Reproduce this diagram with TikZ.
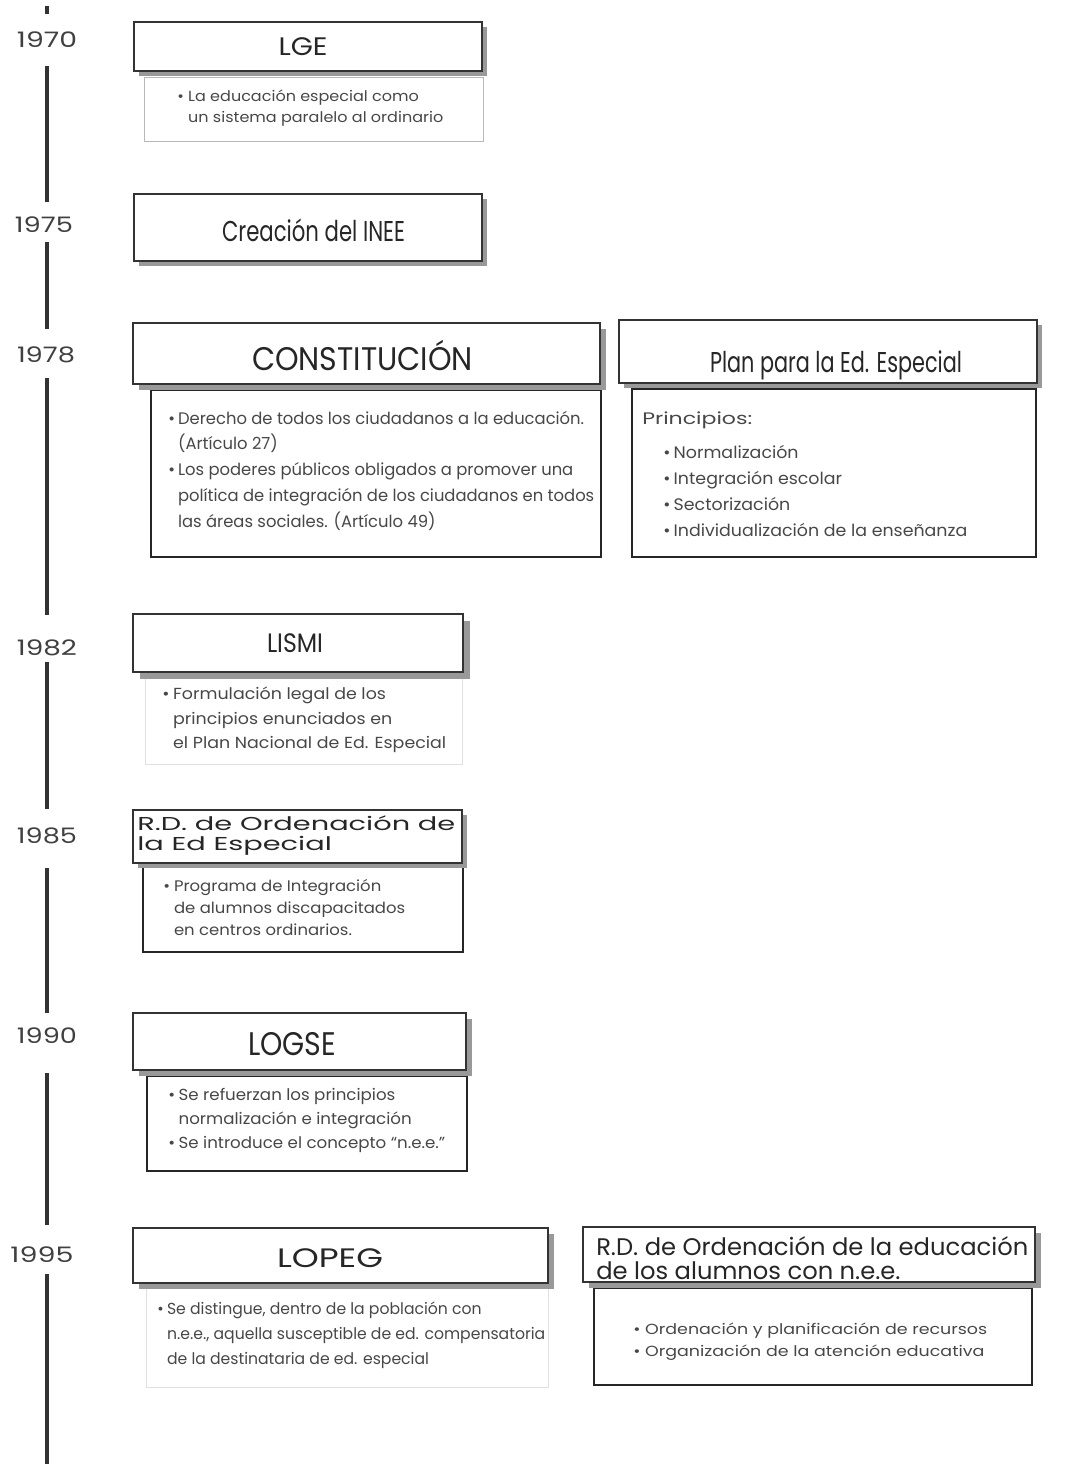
\documentclass[tikz,border=0pt]{standalone}
\usepackage{fontspec}
\setmainfont{Poppins}
\usepackage{graphicx}
\usetikzlibrary{fit,calc}
\newdimen\pxu \pxu=0.75pt
\newcommand\fitw[2]{\resizebox{#1\pxu}{\height}{#2}}
\newcommand\bl{\makebox[10\pxu][l]{•}}
\newcommand\ind{\hspace*{10\pxu}}
\newcommand\titlebox[6]{%
  \fill[shad] ($(#2,#3)+(#6,#6)$) rectangle ($(#4,#5)+(#6,#6)$);
  \node[tbox, fit={(#2,#3) (#4,#5)}] (#1) {};}
\newcommand\bodybox[6]{\node[#6, fit={(#2,#3) (#4,#5)}] (#1) {};}
\tikzset{
  shad/.style={fill=black!40},
  tbox/.style={draw=black!80, line width=1pt, fill=white, inner sep=0pt, outer sep=0pt},
  bodyD/.style={draw=black!85, line width=1.3pt, inner sep=0pt},
  bodyL/.style={draw=black!28, line width=0.6pt, inner sep=0pt},
  bodyVL/.style={draw=black!12, line width=0.6pt, inner sep=0pt},
  ttl/.style={inner sep=0pt, text=black!85, anchor=base},
  yr/.style={inner sep=0pt, text=black!75, font=\fontsize{16}{16}\selectfont},
  btxt/.style={inner sep=0pt, text=black!72, anchor=west, align=left},
  tl/.style={line width=2.6pt, draw=black!80},
}
\begin{document}
\begin{tikzpicture}[x=0.75pt,y=-0.75pt]
\useasboundingbox (0,0) rectangle (1088,1464);
% ---------- timeline ----------
\coordinate (ax) at (47,0);
\coordinate (top) at (47,6);
\coordinate (topb) at (47,14);
\coordinate (bot) at (47,1464);
\node[yr] (y1970) at (47,40) {\fitw{60}{1970}};
\node[yr] (y1975) at (44,225) {\fitw{58}{1975}};
\node[yr] (y1978) at (46,355) {\fitw{58}{1978}};
\node[yr] (y1982) at (47,648) {\fitw{60}{1982}};
\node[yr] (y1985) at (47,836) {\fitw{60}{1985}};
\node[yr] (y1990) at (47,1036) {\fitw{60}{1990}};
\node[yr] (y1995) at (42,1255) {\fitw{63}{1995}};
\draw[tl, line width=3.4pt] (top) -- (topb);
\draw[tl] ($(ax|-y1970)+(0,26)$) -- ($(ax|-y1975)+(0,-23)$);
\draw[tl] ($(ax|-y1975)+(0,17)$) -- ($(ax|-y1978)+(0,-26)$);
\draw[tl] ($(ax|-y1978)+(0,23)$) -- ($(ax|-y1982)+(0,-33)$);
\draw[tl] ($(ax|-y1982)+(0,14)$) -- ($(ax|-y1985)+(0,-27)$);
\draw[tl] ($(ax|-y1985)+(0,32)$) -- ($(ax|-y1990)+(0,-23)$);
\draw[tl] ($(ax|-y1990)+(0,37)$) -- ($(ax|-y1995)+(0,-30)$);
\draw[tl] ($(ax|-y1995)+(0,19)$) -- (bot);
% ---------- body boxes ----------
\bodybox{bLGE}{144}{77}{483}{141}{bodyL}
\bodybox{bCONST}{151}{390}{601}{557}{bodyD}
\bodybox{bPLAN}{632}{389}{1036}{557}{bodyD}
\bodybox{bLISMI}{145}{678}{462}{764}{bodyVL}
\bodybox{bRD85}{143}{867}{463}{952}{bodyD}
\bodybox{bLOGSE}{147}{1076}{467}{1171}{bodyD}
\bodybox{bLOPEG}{146}{1287}{548}{1387}{bodyVL}
\bodybox{bRD95}{594}{1288}{1032}{1385}{bodyD}
% ---------- title boxes ----------
\titlebox{LGE}{134}{22}{482}{71}{5}
\titlebox{INEE}{134}{194}{482}{261}{5}
\titlebox{CONST}{133}{323}{600}{384}{6}
\titlebox{PLAN}{619}{320}{1037}{383}{5}
\titlebox{LISMI}{133}{614}{463}{672}{7}
\titlebox{RD85}{133}{810}{462}{863}{5}
\titlebox{LOGSE}{133}{1013}{466}{1070}{6}
\titlebox{LOPEG}{133}{1228}{548}{1283}{6}
\titlebox{RD95}{583}{1227}{1035}{1282}{6}
% ---------- titles ----------
\node[ttl, font=\fontsize{19}{19}\selectfont] (tLGE) at (303,55) {\fitw{49}{LGE}};
\node[ttl, font=\fontsize{21.5}{21.5}\selectfont] (tINEE) at (313.5,241) {\fitw{183}{Creación del INEE}};
\node[ttl, font=\fontsize{24.5}{24.5}\selectfont] (tCONST) at (362.5,370) {\fitw{221}{CONSTITUCIÓN}};
\node[ttl, font=\fontsize{21.5}{21.5}\selectfont] (tPLAN) at (836,372) {\fitw{252}{Plan para la Ed. Especial}};
\node[ttl, font=\fontsize{20}{20}\selectfont] (tLISMI) at (295,652) {\fitw{56}{LISMI}};
\node[ttl, font=\fontsize{24.5}{24.5}\selectfont] (tLOGSE) at (292,1055) {\fitw{88}{LOGSE}};
\node[ttl, font=\fontsize{20}{20}\selectfont] (tLOPEG) at (330,1267) {\fitw{106}{LOPEG}};
\node[ttl, anchor=base west, font=\fontsize{14}{15}\selectfont] (tRD85) at (137,830)
  {\fitw{318}{\begin{tabular}[t]{@{}l@{}}R.D. de Ordenación de\\la Ed Especial\end{tabular}}};
\node[ttl, anchor=base west, font=\fontsize{18}{16.5}\selectfont] (tRD95) at (596,1255)
  {\fitw{432}{\begin{tabular}[t]{@{}l@{}}R.D. de Ordenación de la educación\\de los alumnos con n.e.e.\end{tabular}}};
% ---------- body texts ----------
\node[btxt, font=\fontsize{11}{15.75}\selectfont] (xLGE) at (177,107.5)
  {\fitw{266}{\begin{tabular}{@{}l@{}}\bl La educación especial como\\\ind un sistema paralelo al ordinario\end{tabular}}};
\node[btxt, font=\fontsize{12.5}{19.3}\selectfont] (xCONST) at (168,470.5)
  {\fitw{426}{\begin{tabular}{@{}l@{}}\bl Derecho de todos los ciudadanos a la educación.\\\ind (Artículo 27)\\\bl Los poderes públicos obligados a promover una\\\ind política de integración de los ciudadanos en todos\\\ind las áreas sociales. (Artículo 49)\end{tabular}}};
\node[btxt, font=\fontsize{12.5}{19.5}\selectfont] (xPRIN) at (642,420) {\fitw{110}{Principios:}};
\node[btxt, font=\fontsize{12.5}{19.5}\selectfont] (xPLAN) at (663,492)
  {\fitw{304}{\begin{tabular}{@{}l@{}}\bl Normalización\\\bl Integración escolar\\\bl Sectorización\\\bl Individualización de la enseñanza\end{tabular}}};
\node[btxt, font=\fontsize{12}{18.4}\selectfont] (xLISMI) at (162,719.5)
  {\fitw{284}{\begin{tabular}{@{}l@{}}\bl Formulación legal de los\\\ind principios enunciados en\\\ind el Plan Nacional de Ed. Especial\end{tabular}}};
\node[btxt, font=\fontsize{11.5}{16.5}\selectfont] (xRD85) at (163,909)
  {\fitw{242}{\begin{tabular}{@{}l@{}}\bl Programa de Integración\\\ind de alumnos discapacitados\\\ind en centros ordinarios.\end{tabular}}};
\node[btxt, font=\fontsize{12}{18}\selectfont] (xLOGSE) at (168,1120)
  {\fitw{277}{\begin{tabular}{@{}l@{}}\bl Se refuerzan los principios\\\ind normalización e integración\\\bl Se introduce el concepto “n.e.e.”\end{tabular}}};
\node[btxt, font=\fontsize{12}{18.75}\selectfont] (xLOPEG) at (157,1334)
  {\fitw{388}{\begin{tabular}{@{}l@{}}\bl Se distingue, dentro de la población con\\\ind n.e.e., aquella susceptible de ed. compensatoria\\\ind de la destinataria de ed. especial\end{tabular}}};
\node[btxt, font=\fontsize{11}{16.5}\selectfont] (xRD95) at (633,1341)
  {\fitw{354}{\begin{tabular}{@{}l@{}}\bl Ordenación y planificación de recursos\\\bl Organización de la atención educativa\end{tabular}}};
\end{tikzpicture}
\end{document}
